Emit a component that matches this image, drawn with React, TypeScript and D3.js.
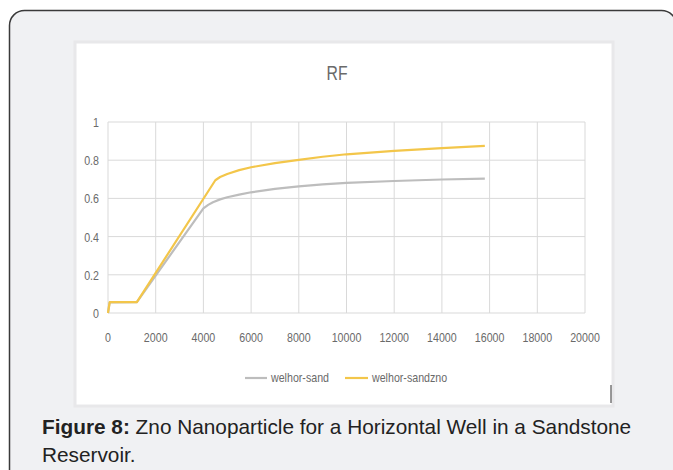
import React from "react";
import * as d3 from "d3";

const xTicks = [0, 2000, 4000, 6000, 8000, 10000, 12000, 14000, 16000, 18000, 20000];
const yTicks = [0, 0.2, 0.4, 0.6, 0.8, 1];

const sandX = [0, 70, 1210, 4000, 4200, 4400, 4700, 5000, 5500, 6000, 7000, 8000, 9000, 10000, 12000, 14000, 15800];
const sandY = [0, 0.055, 0.057, 0.548, 0.566, 0.58, 0.595, 0.606, 0.62, 0.632, 0.65, 0.663, 0.673, 0.681, 0.691, 0.699, 0.704];

const znoX = [0, 70, 1210, 4500, 4700, 5000, 5500, 6000, 7000, 8000, 9000, 10000, 12000, 14000, 15800];
const znoY = [0, 0.057, 0.057, 0.695, 0.712, 0.728, 0.748, 0.763, 0.785, 0.802, 0.818, 0.831, 0.849, 0.863, 0.875];

const seriesNames = ["welhor-sand", "welhor-sandzno"];
const seriesColors = ["#bdbdbd", "#f3c64a"];
const title = "RF";
const captionBold = "Figure 8:";
const captionLine1 = " Zno Nanoparticle for a Horizontal Well in a Sandstone";
const captionLine2 = "Reservoir.";

const font = "'Liberation Sans', Arial, sans-serif";
const textCol = "#6a6a6a";

function NText(props: { x: number; y: number; size: number; anchor?: string; sx?: number; children: React.ReactNode }) {
  const sx = props.sx ?? 0.82;
  return (
    <text
      transform={`translate(${props.x},${props.y}) scale(${sx},1)`}
      textAnchor={props.anchor || "start"}
      fontFamily={font}
      fontSize={props.size}
      fill={textCol}
    >
      {props.children}
    </text>
  );
}

export default function App() {
  const W = 673, H = 470;
  const left = 108, right = 585, top = 122, bottom = 313;
  const x = d3.scaleLinear().domain([0, 20000]).range([left, right]);
  const y = d3.scaleLinear().domain([0, 1]).range([bottom, top]);
  const line = d3.line<[number, number]>().x(d => x(d[0])).y(d => y(d[1])).curve(d3.curveLinear);
  const sandPts: [number, number][] = sandX.map((v, i) => [v, sandY[i]]);
  const znoPts: [number, number][] = znoX.map((v, i) => [v, znoY[i]]);
  return (
    <svg width={W} height={H} style={{ position: "absolute", left: 0, top: 0 }} xmlns="http://www.w3.org/2000/svg">
      <rect x={0} y={0} width={W} height={H} fill="#ffffff" />
      <rect x={9.5} y={10.5} width={667} height={480} rx={15} ry={15} fill="#f0f1f3" stroke="#3a3a3a" strokeWidth={1.5} />
      {/* chart panel */}
      <rect x={75} y={42} width={538} height={364} fill="#ffffff" stroke="#e8e8ea" strokeWidth={3} />
      <line x1={611} x2={611} y1={385} y2={403} stroke="#555" strokeWidth={1.2} />
      <NText x={337} y={80} size={21} anchor="middle" sx={0.75}>{title}</NText>
      {/* grid */}
      {yTicks.map(t => (
        <line key={"gy" + t} x1={left} x2={right} y1={y(t)} y2={y(t)} stroke="#d9d9d9" strokeWidth={1} />
      ))}
      {xTicks.map(t => (
        <line key={"gx" + t} x1={x(t)} x2={x(t)} y1={top} y2={bottom} stroke="#d9d9d9" strokeWidth={1} />
      ))}
      {yTicks.map(t => (
        <NText key={"ty" + t} x={99} y={y(t) + 5} size={13} anchor="end">{d3.format("~g")(t)}</NText>
      ))}
      {xTicks.map(t => (
        <NText key={"tx" + t} x={x(t)} y={342} size={13} anchor="middle">{String(t)}</NText>
      ))}
      <path d={line(sandPts) || ""} fill="none" stroke={seriesColors[0]} strokeWidth={2.2} strokeLinejoin="round" />
      <path d={line(znoPts) || ""} fill="none" stroke={seriesColors[1]} strokeWidth={2.2} strokeLinejoin="round" />
      {/* legend */}
      <line x1={245} x2={267} y1={378} y2={378} stroke={seriesColors[0]} strokeWidth={2.2} />
      <NText x={271} y={382} size={13}>{seriesNames[0]}</NText>
      <line x1={345} x2={368} y1={378} y2={378} stroke={seriesColors[1]} strokeWidth={2.2} />
      <NText x={372} y={382} size={13}>{seriesNames[1]}</NText>
      {/* caption */}
      <text x={42} y={434} fontFamily={font} fontSize={20.8} fill="#222">
        <tspan fontWeight="bold">{captionBold}</tspan>
        <tspan>{captionLine1}</tspan>
      </text>
      <text x={42} y={462} fontFamily={font} fontSize={20.8} fill="#222">{captionLine2}</text>
    </svg>
  );
}
